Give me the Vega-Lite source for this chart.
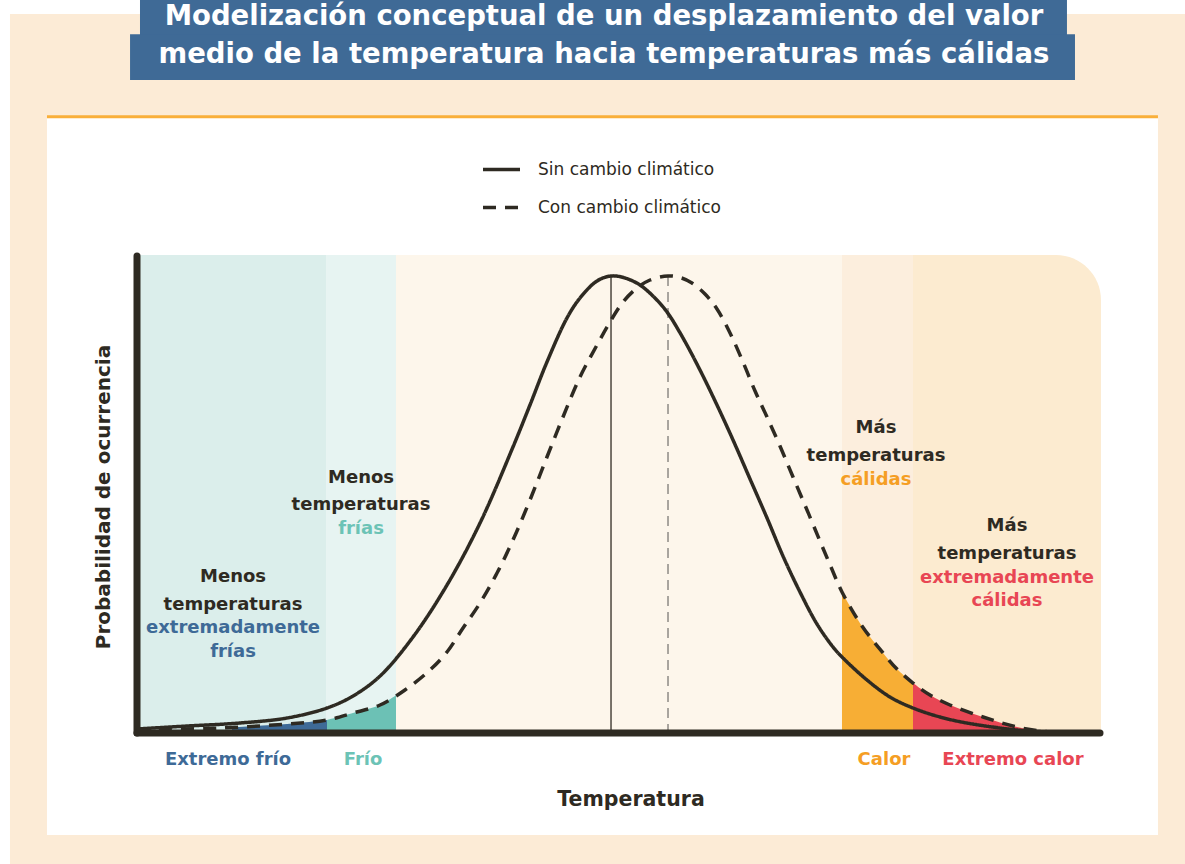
{
  "$schema": "https://vega.github.io/schema/vega-lite/v6.json",
  "width": 966,
  "height": 478,
  "autosize": {"type": "none"},
  "padding": {"left": 137, "top": 255, "right": 82, "bottom": 131},
  "background": "#FFFFFF",
  "config": {"view": {"stroke": null}, "font": "DejaVu Sans"},
  "datasets": {
    "curvas": [
      {"t": 0, "p": 0.84, "escenario": "Sin cambio climático"},
      {"t": 5.18, "p": 1.46, "escenario": "Sin cambio climático"},
      {"t": 10.66, "p": 2.09, "escenario": "Sin cambio climático"},
      {"t": 15.53, "p": 3.14, "escenario": "Sin cambio climático"},
      {"t": 19.67, "p": 5.23, "escenario": "Sin cambio climático"},
      {"t": 22.36, "p": 7.74, "escenario": "Sin cambio climático"},
      {"t": 25.16, "p": 11.92, "escenario": "Sin cambio climático"},
      {"t": 28.57, "p": 20.08, "escenario": "Sin cambio climático"},
      {"t": 32.09, "p": 30.96, "escenario": "Sin cambio climático"},
      {"t": 35.51, "p": 43.93, "escenario": "Sin cambio climático"},
      {"t": 38.92, "p": 59.83, "escenario": "Sin cambio climático"},
      {"t": 40.68, "p": 68.62, "escenario": "Sin cambio climático"},
      {"t": 42.44, "p": 77.62, "escenario": "Sin cambio climático"},
      {"t": 44.51, "p": 86.82, "escenario": "Sin cambio climático"},
      {"t": 45.86, "p": 91.0, "escenario": "Sin cambio climático"},
      {"t": 47.62, "p": 94.56, "escenario": "Sin cambio climático"},
      {"t": 49.07, "p": 95.61, "escenario": "Sin cambio climático"},
      {"t": 50.52, "p": 95.19, "escenario": "Sin cambio climático"},
      {"t": 52.07, "p": 93.72, "escenario": "Sin cambio climático"},
      {"t": 53.62, "p": 91.0, "escenario": "Sin cambio climático"},
      {"t": 54.87, "p": 88.07, "escenario": "Sin cambio climático"},
      {"t": 56.52, "p": 82.64, "escenario": "Sin cambio climático"},
      {"t": 58.28, "p": 75.94, "escenario": "Sin cambio climático"},
      {"t": 60.04, "p": 68.62, "escenario": "Sin cambio climático"},
      {"t": 61.7, "p": 61.3, "escenario": "Sin cambio climático"},
      {"t": 63.46, "p": 53.14, "escenario": "Sin cambio climático"},
      {"t": 65.22, "p": 44.98, "escenario": "Sin cambio climático"},
      {"t": 66.87, "p": 37.03, "escenario": "Sin cambio climático"},
      {"t": 68.63, "p": 29.5, "escenario": "Sin cambio climático"},
      {"t": 70.39, "p": 22.8, "escenario": "Sin cambio climático"},
      {"t": 72.05, "p": 17.99, "escenario": "Sin cambio climático"},
      {"t": 72.98, "p": 15.9, "escenario": "Sin cambio climático"},
      {"t": 75.57, "p": 11.09, "escenario": "Sin cambio climático"},
      {"t": 77.95, "p": 7.53, "escenario": "Sin cambio climático"},
      {"t": 80.33, "p": 5.23, "escenario": "Sin cambio climático"},
      {"t": 83.13, "p": 3.35, "escenario": "Sin cambio climático"},
      {"t": 85.92, "p": 2.09, "escenario": "Sin cambio climático"},
      {"t": 91.1, "p": 0.63, "escenario": "Sin cambio climático"},
      {"t": 94.51, "p": 0.21, "escenario": "Sin cambio climático"},
      {"t": 98.14, "p": 0, "escenario": "Sin cambio climático"},
      {"t": 0, "p": 0.63, "escenario": "Con cambio climático"},
      {"t": 8.59, "p": 1.05, "escenario": "Con cambio climático"},
      {"t": 15.53, "p": 1.88, "escenario": "Con cambio climático"},
      {"t": 19.67, "p": 2.72, "escenario": "Con cambio climático"},
      {"t": 22.36, "p": 4.18, "escenario": "Con cambio climático"},
      {"t": 25.16, "p": 5.86, "escenario": "Con cambio climático"},
      {"t": 27.74, "p": 9.0, "escenario": "Con cambio climático"},
      {"t": 30.33, "p": 13.18, "escenario": "Con cambio climático"},
      {"t": 32.09, "p": 16.95, "escenario": "Con cambio climático"},
      {"t": 33.75, "p": 21.97, "escenario": "Con cambio climático"},
      {"t": 35.51, "p": 27.2, "escenario": "Con cambio climático"},
      {"t": 37.27, "p": 33.47, "escenario": "Con cambio climático"},
      {"t": 38.92, "p": 40.38, "escenario": "Con cambio climático"},
      {"t": 40.68, "p": 48.74, "escenario": "Con cambio climático"},
      {"t": 42.44, "p": 57.74, "escenario": "Con cambio climático"},
      {"t": 44.1, "p": 66.11, "escenario": "Con cambio climático"},
      {"t": 45.86, "p": 74.48, "escenario": "Con cambio climático"},
      {"t": 47.62, "p": 81.17, "escenario": "Con cambio climático"},
      {"t": 48.96, "p": 85.98, "escenario": "Con cambio climático"},
      {"t": 50.31, "p": 90.17, "escenario": "Con cambio climático"},
      {"t": 51.76, "p": 93.1, "escenario": "Con cambio climático"},
      {"t": 53.11, "p": 94.77, "escenario": "Con cambio climático"},
      {"t": 54.97, "p": 95.61, "escenario": "Con cambio climático"},
      {"t": 56.21, "p": 95.29, "escenario": "Con cambio climático"},
      {"t": 57.45, "p": 94.14, "escenario": "Con cambio climático"},
      {"t": 58.8, "p": 91.84, "escenario": "Con cambio climático"},
      {"t": 60.04, "p": 88.7, "escenario": "Con cambio climático"},
      {"t": 61.39, "p": 83.68, "escenario": "Con cambio climático"},
      {"t": 62.73, "p": 77.62, "escenario": "Con cambio climático"},
      {"t": 63.98, "p": 71.55, "escenario": "Con cambio climático"},
      {"t": 65.22, "p": 66.11, "escenario": "Con cambio climático"},
      {"t": 66.56, "p": 60.04, "escenario": "Con cambio climático"},
      {"t": 67.91, "p": 53.56, "escenario": "Con cambio climático"},
      {"t": 69.36, "p": 46.65, "escenario": "Con cambio climático"},
      {"t": 70.7, "p": 40.17, "escenario": "Con cambio climático"},
      {"t": 71.84, "p": 34.73, "escenario": "Con cambio climático"},
      {"t": 72.98, "p": 29.5, "escenario": "Con cambio climático"},
      {"t": 75.05, "p": 22.38, "escenario": "Con cambio climático"},
      {"t": 77.23, "p": 16.74, "escenario": "Con cambio climático"},
      {"t": 78.67, "p": 13.39, "escenario": "Con cambio climático"},
      {"t": 80.33, "p": 10.46, "escenario": "Con cambio climático"},
      {"t": 82.09, "p": 7.95, "escenario": "Con cambio climático"},
      {"t": 84.16, "p": 5.86, "escenario": "Con cambio climático"},
      {"t": 87.58, "p": 3.35, "escenario": "Con cambio climático"},
      {"t": 91.1, "p": 1.26, "escenario": "Con cambio climático"},
      {"t": 94.51, "p": 0.21, "escenario": "Con cambio climático"},
      {"t": 98.14, "p": 0, "escenario": "Con cambio climático"}
    ],
    "rellenos": [
      {"t": 9.83, "p": 1.2, "zona": "Extremo frío"},
      {"t": 15.53, "p": 1.88, "zona": "Extremo frío"},
      {"t": 19.67, "p": 2.72, "zona": "Extremo frío"},
      {"t": 19.67, "p": 2.72, "zona": "Frío"},
      {"t": 22.36, "p": 4.18, "zona": "Frío"},
      {"t": 25.16, "p": 5.86, "zona": "Frío"},
      {"t": 26.81, "p": 7.9, "zona": "Frío"},
      {"t": 72.98, "p": 29.5, "zona": "Calor"},
      {"t": 75.05, "p": 22.38, "zona": "Calor"},
      {"t": 77.23, "p": 16.74, "zona": "Calor"},
      {"t": 78.67, "p": 13.39, "zona": "Calor"},
      {"t": 80.33, "p": 10.46, "zona": "Calor"},
      {"t": 80.33, "p": 10.46, "zona": "Extremo calor"},
      {"t": 82.09, "p": 7.95, "zona": "Extremo calor"},
      {"t": 84.16, "p": 5.86, "zona": "Extremo calor"},
      {"t": 87.58, "p": 3.35, "zona": "Extremo calor"},
      {"t": 91.1, "p": 1.26, "zona": "Extremo calor"},
      {"t": 94.51, "p": 0.21, "zona": "Extremo calor"},
      {"t": 98.14, "p": 0, "zona": "Extremo calor"}
    ],
    "franjas": [
      {"zona": "Extremo frío", "desde": 0, "hasta": 19.57},
      {"zona": "Frío", "desde": 19.57, "hasta": 26.81},
      {"zona": "Normal", "desde": 26.81, "hasta": 72.98},
      {"zona": "Calor", "desde": 72.98, "hasta": 80.33},
      {"zona": "Extremo calor", "desde": 80.33, "hasta": 99.79}
    ],
    "medias": [
      {"t": 49.07, "p": 95.61, "escenario": "Sin cambio climático"},
      {"t": 54.97, "p": 95.61, "escenario": "Con cambio climático"}
    ],
    "notas": [
      {"x": 9.94, "y": 32.64, "texto": "Menos", "tono": "oscuro"},
      {"x": 9.94, "y": 26.78, "texto": "temperaturas", "tono": "oscuro"},
      {"x": 9.94, "y": 21.97, "texto": "extremadamente", "tono": "azul"},
      {"x": 9.94, "y": 16.95, "texto": "frías", "tono": "azul"},
      {"x": 23.19, "y": 53.35, "texto": "Menos", "tono": "oscuro"},
      {"x": 23.19, "y": 47.7, "texto": "temperaturas", "tono": "oscuro"},
      {"x": 23.19, "y": 42.68, "texto": "frías", "tono": "turquesa"},
      {"x": 76.5, "y": 63.81, "texto": "Más", "tono": "oscuro"},
      {"x": 76.5, "y": 57.95, "texto": "temperaturas", "tono": "oscuro"},
      {"x": 76.5, "y": 52.93, "texto": "cálidas", "tono": "naranja"},
      {"x": 90.06, "y": 43.31, "texto": "Más", "tono": "oscuro"},
      {"x": 90.06, "y": 37.45, "texto": "temperaturas", "tono": "oscuro"},
      {"x": 90.06, "y": 32.43, "texto": "extremadamente", "tono": "rojo"},
      {"x": 90.06, "y": 27.62, "texto": "cálidas", "tono": "rojo"}
    ],
    "etiquetas": [
      {"x": 9.42, "y": -5.65, "texto": "Extremo frío", "tono": "azul"},
      {"x": 23.4, "y": -5.65, "texto": "Frío", "tono": "turquesa"},
      {"x": 77.33, "y": -5.65, "texto": "Calor", "tono": "naranja"},
      {"x": 90.68, "y": -5.65, "texto": "Extremo calor", "tono": "rojo"}
    ]
  },
  "layer": [
    {
      "data": {"values": [{"x1": -13.15, "x2": 108.49, "y1": -27.41, "y2": 150.42}]},
      "mark": {"type": "rect", "color": "#FCEBD6"},
      "encoding": {
        "x": {"field": "x1", "type": "quantitative", "scale": {"domain": [0, 100]}, "axis": null},
        "x2": {"field": "x2"},
        "y": {"field": "y1", "type": "quantitative", "scale": {"domain": [0, 100]}, "axis": null},
        "y2": {"field": "y2"}
      }
    },
    {
      "data": {"values": [{"x1": -9.32, "x2": 105.69, "y1": -21.34, "y2": 129.08}]},
      "mark": {"type": "rect", "color": "#FFFFFF"},
      "encoding": {
        "x": {"field": "x1", "type": "quantitative", "scale": {"domain": [0, 100]}, "axis": null},
        "x2": {"field": "x2"},
        "y": {"field": "y1", "type": "quantitative", "scale": {"domain": [0, 100]}, "axis": null},
        "y2": {"field": "y2"}
      }
    },
    {
      "data": {"values": [{"x1": -9.32, "x2": 105.69, "y": 128.9}]},
      "mark": {"type": "rule", "color": "#F9AF3A", "strokeWidth": 3},
      "encoding": {
        "x": {"field": "x1", "type": "quantitative", "scale": {"domain": [0, 100]}, "axis": null},
        "x2": {"field": "x2"},
        "y": {"field": "y", "type": "quantitative", "scale": {"domain": [0, 100]}, "axis": null}
      }
    },
    {
      "data": {"values": [
        {"x1": 0.31, "x2": 96.27, "y1": 153.35, "y2": 146.03},
        {"x1": -0.72, "x2": 97.1, "y1": 146.2, "y2": 136.61}
      ]},
      "mark": {"type": "rect", "color": "#3F6A96"},
      "encoding": {
        "x": {"field": "x1", "type": "quantitative", "scale": {"domain": [0, 100]}, "axis": null},
        "x2": {"field": "x2"},
        "y": {"field": "y1", "type": "quantitative", "scale": {"domain": [0, 100]}, "axis": null},
        "y2": {"field": "y2"}
      }
    },
    {
      "data": {"values": [
        {"x": 48.34, "y": 149.79, "texto": "Modelización conceptual de un desplazamiento del valor"},
        {"x": 48.34, "y": 141.84, "texto": "medio de la temperatura hacia temperaturas más cálidas"}
      ]},
      "mark": {"type": "text", "font": "DejaVu Sans", "fontWeight": "bold", "fontSize": 27.5, "color": "#FFFFFF", "align": "center", "baseline": "middle"},
      "encoding": {
        "x": {"field": "x", "type": "quantitative", "scale": {"domain": [0, 100]}, "axis": null},
        "y": {"field": "y", "type": "quantitative", "scale": {"domain": [0, 100]}, "axis": null},
        "text": {"field": "texto"}
      }
    },
    {
      "data": {"name": "franjas"},
      "transform": [{"filter": "datum.zona !== 'Extremo calor'"}],
      "mark": {"type": "rect"},
      "encoding": {
        "x": {"field": "desde", "type": "quantitative", "scale": {"domain": [0, 100]}, "axis": null},
        "x2": {"field": "hasta"},
        "y": {"datum": 100, "type": "quantitative", "scale": {"domain": [0, 100]}, "axis": null},
        "y2": {"datum": 0},
        "color": {"field": "zona", "type": "nominal", "legend": null,
          "scale": {"domain": ["Extremo frío", "Frío", "Normal", "Calor"], "range": ["#DBEEEB", "#E7F4F2", "#FDF6EB", "#FCEEDD"]}}
      }
    },
    {
      "data": {"name": "franjas"},
      "transform": [{"filter": "datum.zona === 'Extremo calor'"}],
      "mark": {"type": "rect", "color": "#FCEBD0", "cornerRadiusTopRight": 45},
      "encoding": {
        "x": {"field": "desde", "type": "quantitative", "scale": {"domain": [0, 100]}, "axis": null},
        "x2": {"field": "hasta"},
        "y": {"datum": 100, "type": "quantitative", "scale": {"domain": [0, 100]}, "axis": null},
        "y2": {"datum": 0}
      }
    },
    {
      "data": {"name": "rellenos"},
      "mark": {"type": "area", "interpolate": "catmull-rom"},
      "encoding": {
        "x": {"field": "t", "type": "quantitative", "scale": {"domain": [0, 100]}, "axis": null},
        "y": {"field": "p", "type": "quantitative", "stack": null, "scale": {"domain": [0, 100]}, "axis": null},
        "y2": {"datum": 0},
        "color": {"field": "zona", "type": "nominal", "legend": null,
          "scale": {"domain": ["Extremo frío", "Frío", "Calor", "Extremo calor"], "range": ["#3E6A97", "#6CC1B5", "#F7AE35", "#E84654"]}}
      }
    },
    {
      "data": {"name": "medias"},
      "transform": [{"filter": "datum.escenario === 'Sin cambio climático'"}],
      "mark": {"type": "rule", "color": "#4B463E", "strokeWidth": 1.5},
      "encoding": {
        "x": {"field": "t", "type": "quantitative", "scale": {"domain": [0, 100]}, "axis": null},
        "y": {"field": "p", "type": "quantitative", "scale": {"domain": [0, 100]}, "axis": null},
        "y2": {"datum": 0}
      }
    },
    {
      "data": {"name": "medias"},
      "transform": [{"filter": "datum.escenario === 'Con cambio climático'"}],
      "mark": {"type": "rule", "color": "#8D8A85", "strokeWidth": 1.5, "strokeDash": [10, 6]},
      "encoding": {
        "x": {"field": "t", "type": "quantitative", "scale": {"domain": [0, 100]}, "axis": null},
        "y": {"field": "p", "type": "quantitative", "scale": {"domain": [0, 100]}, "axis": null},
        "y2": {"datum": 0}
      }
    },
    {
      "data": {"name": "curvas"},
      "mark": {"type": "line", "interpolate": "catmull-rom", "color": "#2E2A22", "strokeWidth": 3.5},
      "encoding": {
        "x": {"field": "t", "type": "quantitative", "scale": {"domain": [0, 100]}, "axis": null},
        "y": {"field": "p", "type": "quantitative", "scale": {"domain": [0, 100]}, "axis": null},
        "strokeDash": {"field": "escenario", "type": "nominal",
          "scale": {"domain": ["Sin cambio climático", "Con cambio climático"], "range": [[1, 0], [13, 9]]},
          "legend": {"orient": "none", "legendX": 344, "legendY": -106, "title": null,
            "symbolType": "stroke", "symbolSize": 1369, "symbolStrokeWidth": 3.5, "symbolStrokeColor": "#2E2A22",
            "labelFont": "DejaVu Sans", "labelFontSize": 17, "labelColor": "#2E2A22", "labelOffset": 16, "labelLimit": 400, "rowPadding": 9,
            "encode": {"symbols": {"update": {"strokeDash": {"signal": "datum.value === 'Con cambio climático' ? [11, 14] : [1, 0]"}}}}}}
      }
    },
    {
      "data": {"values": [{}]},
      "mark": {"type": "rule", "color": "#2E2A22", "strokeWidth": 7, "strokeCap": "round"},
      "encoding": {
        "x": {"datum": 0, "type": "quantitative", "scale": {"domain": [0, 100]}, "axis": null},
        "y": {"datum": 0, "type": "quantitative", "scale": {"domain": [0, 100]}, "axis": null},
        "y2": {"datum": 99.8}
      }
    },
    {
      "data": {"values": [{}]},
      "mark": {"type": "rule", "color": "#2E2A22", "strokeWidth": 7, "strokeCap": "round"},
      "encoding": {
        "x": {"datum": 0, "type": "quantitative", "scale": {"domain": [0, 100]}, "axis": null},
        "x2": {"datum": 99.69},
        "y": {"datum": 0, "type": "quantitative", "scale": {"domain": [0, 100]}, "axis": null}
      }
    },
    {
      "data": {"name": "notas"},
      "mark": {"type": "text", "font": "DejaVu Sans", "fontWeight": "bold", "fontSize": 18, "align": "center", "baseline": "middle"},
      "encoding": {
        "x": {"field": "x", "type": "quantitative", "scale": {"domain": [0, 100]}, "axis": null},
        "y": {"field": "y", "type": "quantitative", "scale": {"domain": [0, 100]}, "axis": null},
        "text": {"field": "texto"},
        "color": {"field": "tono", "type": "nominal", "legend": null,
          "scale": {"domain": ["oscuro", "azul", "turquesa", "naranja", "rojo"], "range": ["#2E2A22", "#3E6A97", "#6CC3B6", "#F59E24", "#E84654"]}}
      }
    },
    {
      "data": {"name": "etiquetas"},
      "mark": {"type": "text", "font": "DejaVu Sans", "fontWeight": "bold", "fontSize": 18, "align": "center", "baseline": "middle"},
      "encoding": {
        "x": {"field": "x", "type": "quantitative", "scale": {"domain": [0, 100]}, "axis": null},
        "y": {"field": "y", "type": "quantitative", "scale": {"domain": [0, 100]}, "axis": null},
        "text": {"field": "texto"},
        "color": {"field": "tono", "type": "nominal", "legend": null,
          "scale": {"domain": ["oscuro", "azul", "turquesa", "naranja", "rojo"], "range": ["#2E2A22", "#3E6A97", "#6CC3B6", "#F59E24", "#E84654"]}}
      }
    },
    {
      "data": {"values": [{"x": 51.14, "y": -14.02, "texto": "Temperatura"}]},
      "mark": {"type": "text", "font": "DejaVu Sans", "fontWeight": "bold", "fontSize": 20.5, "color": "#2E2A22", "align": "center", "baseline": "middle"},
      "encoding": {
        "x": {"field": "x", "type": "quantitative", "scale": {"domain": [0, 100]}, "axis": null},
        "y": {"field": "y", "type": "quantitative", "scale": {"domain": [0, 100]}, "axis": null},
        "text": {"field": "texto"}
      }
    },
    {
      "data": {"values": [{"x": -3.42, "y": 49.37, "texto": "Probabilidad de ocurrencia"}]},
      "mark": {"type": "text", "font": "DejaVu Sans", "fontWeight": "bold", "fontSize": 20, "color": "#2E2A22", "align": "center", "baseline": "middle", "angle": 270},
      "encoding": {
        "x": {"field": "x", "type": "quantitative", "scale": {"domain": [0, 100]}, "axis": null},
        "y": {"field": "y", "type": "quantitative", "scale": {"domain": [0, 100]}, "axis": null},
        "text": {"field": "texto"}
      }
    }
  ],
  "resolve": {"scale": {"color": "independent"}}
}
